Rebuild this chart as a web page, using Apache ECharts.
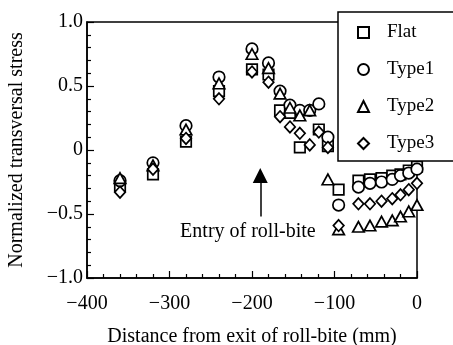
<!DOCTYPE html>
<html>
<head>
<meta charset="utf-8">
<script src="https://cdn.jsdelivr.net/npm/echarts@6/dist/echarts.min.js"></script>
<style>
  html, body { margin: 0; padding: 0; background: #fff; }
  #chart { width: 453px; height: 345px; }
</style>
</head>
<body>
<div id="chart"></div>
<script>
// distance from exit of roll-bite (mm)
const distance = [-360, -320, -280, -240, -200, -180, -166, -154, -142, -130, -119, -108, -95, -71, -57, -43, -30, -20, -10, 0]

// normalized transversal stress (null = no marker read)
const flat  = [-0.28, -0.19, 0.065, 0.46, 0.63, 0.59, 0.31, 0.29, 0.02, null, 0.16, 0.03, -0.31, -0.24, -0.23, -0.22, -0.20, -0.19, -0.16, -0.13]
const type1 = [-0.24, -0.10, 0.19, 0.57, 0.79, 0.68, 0.46, 0.35, 0.31, 0.31, 0.36, 0.10, -0.43, -0.29, -0.26, -0.25, -0.23, -0.20, -0.18, -0.15]
const type2 = [-0.22, -0.12, 0.16, 0.52, 0.75, 0.64, 0.44, 0.33, 0.27, 0.31, null, -0.23, -0.62, -0.60, -0.59, -0.56, -0.55, -0.52, -0.48, -0.43]
const type3 = [-0.33, -0.15, 0.09, 0.40, 0.61, 0.53, 0.26, 0.18, 0.13, 0.04, 0.14, 0.02, -0.59, -0.42, -0.42, -0.40, -0.38, -0.35, -0.31, -0.26]

const xTicks = {'-400': '\u2212400', '-300': '\u2212300', '-200': '\u2212200', '-100': '\u2212100', '0': '0'}
const yTicks = {'1': '1.0', '0.5': '0.5', '0': '0', '-0.5': '\u22120.5', '-1': '\u22121.0'}

// arrow "Entry of roll-bite"
const entryX = -190
const entryArrow = [-0.52, -0.2]
const entryLabel = [-205, -0.64]

const font = 'Liberation Serif'

const chart = echarts.init(document.getElementById('chart'))

function pairs (ys) {
  const out = []
  ys.forEach((y, i) => {
    if (y !== null) out.push([distance[i], y])
  })
  return out
}

function makeSeries (name, ys, symbol, size) {
  return {
    name: name,
    type: 'scatter',
    symbol: symbol,
    symbolSize: size,
    itemStyle: {
      color: '#fff',
      borderColor: '#000',
      borderWidth: 1.7,
      opacity: 1
    },
    emphasis: { disabled: true },
    data: pairs(ys)
  }
}

const series = [
  makeSeries('Flat', flat, 'rect', 10.5),
  makeSeries('Type1', type1, 'circle', 11.5),
  makeSeries('Type2', type2, 'triangle', [11.5, 10.5]),
  makeSeries('Type3', type3, 'diamond', [10.5, 11.5])
]

// annotation lives on the first series
series[0].markLine = {
  silent: true,
  symbol: ['none', 'triangle'],
  symbolSize: [15, 15],
  label: { show: false },
  lineStyle: { color: '#000', width: 1.5, type: 'solid' },
  data: [[
    { coord: [entryX, entryArrow[0]] },
    { coord: [entryX, entryArrow[1]] }
  ]]
}
series[0].markPoint = {
  silent: true,
  symbol: 'circle',
  symbolSize: 1,
  itemStyle: { color: 'rgba(0,0,0,0)', borderWidth: 0 },
  label: {
    show: true,
    position: 'inside',
    formatter: 'Entry of roll-bite',
    color: '#000',
    fontFamily: font,
    fontSize: 20
  },
  data: [{ coord: entryLabel }]
}

const option = {
  animation: false,
  backgroundColor: '#fff',
  grid: {
    left: 87,
    right: 36,
    top: 22,
    bottom: 67,
    outerBoundsMode: 'none',
    show: true,
    borderColor: '#000',
    borderWidth: 1.5
  },
  legend: {
    orient: 'vertical',
    left: 338,
    top: 12,
    padding: [11, 40, 8, 19],
    itemGap: 18,
    itemWidth: 11,
    itemHeight: 11,
    backgroundColor: '#fff',
    borderColor: '#000',
    borderWidth: 1.5,
    textStyle: { fontFamily: font, fontSize: 19, color: '#000', padding: [0, 0, 0, 13] },
    data: ['Flat', 'Type1', 'Type2', 'Type3']
  },
  xAxis: {
    type: 'value',
    min: -400,
    max: 0,
    interval: 100,
    name: 'Distance from exit of roll-bite (mm)',
    nameLocation: 'middle',
    nameGap: 49,
    nameTextStyle: { fontFamily: font, fontSize: 20, color: '#000' },
    axisLine: { show: true, onZero: false, lineStyle: { color: '#000', width: 1.5 } },
    axisTick: { inside: true, length: 7, lineStyle: { color: '#000', width: 1.2 } },
    minorTick: { show: true, splitNumber: 5, length: 4, lineStyle: { color: '#000', width: 1.2 } },
    axisLabel: {
      margin: 16,
      fontFamily: font,
      fontSize: 20,
      color: '#000',
      formatter: v => xTicks[String(v)]
    },
    splitLine: { show: false }
  },
  yAxis: {
    type: 'value',
    min: -1,
    max: 1,
    interval: 0.5,
    name: 'Normalized transversal stress',
    nameLocation: 'middle',
    nameGap: 60,
    nameTextStyle: { fontFamily: font, fontSize: 20, color: '#000' },
    axisLine: { show: true, onZero: false, lineStyle: { color: '#000', width: 1.5 } },
    axisTick: { inside: true, length: 7, lineStyle: { color: '#000', width: 1.2 } },
    minorTick: { show: true, splitNumber: 5, length: 4, lineStyle: { color: '#000', width: 1.2 } },
    axisLabel: {
      margin: 4,
      fontFamily: font,
      fontSize: 20,
      color: '#000',
      formatter: v => yTicks[String(v)]
    },
    splitLine: { show: false }
  },
  series: series
}

chart.setOption(option)
</script>
</body>
</html>
